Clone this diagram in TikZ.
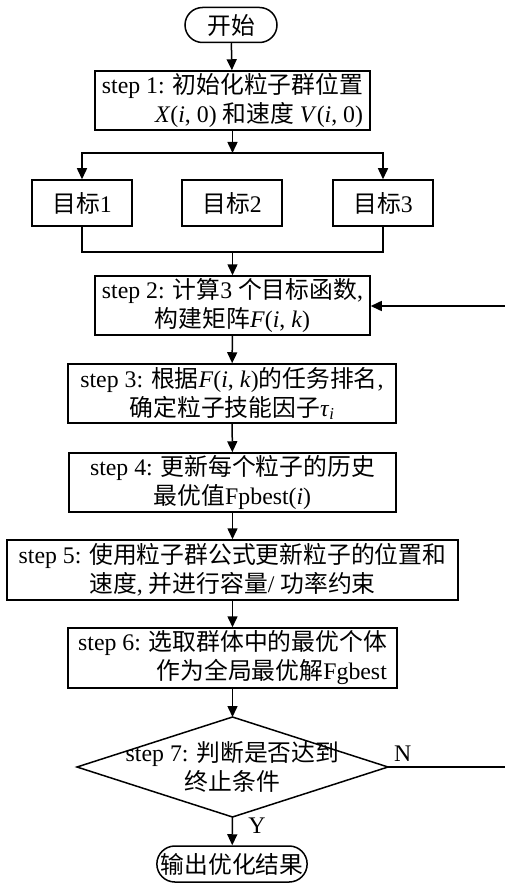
\documentclass[tikz,border=0pt]{standalone}
\usepackage{fontspec}
\setmainfont{Liberation Serif}
\newfontfamily\cjk{Noto Sans CJK SC}
\newcommand\zh[1]{{\cjk #1}}
\newcommand\mi[1]{\textit{#1}}
\usetikzlibrary{arrows.meta,shapes.misc}
\begin{document}
\begin{tikzpicture}[x=1pt,y=-1pt,line width=1.5pt,
  txt/.style={font=\fontsize{23.8}{29}\selectfont},
  box/.style={txt,draw,rectangle,inner sep=0pt,align=center},
  term/.style={txt,draw,rounded rectangle,inner sep=0pt,minimum height=35pt},
  arr/.style={-{Triangle[width=10pt,length=11pt]}}]
\useasboundingbox (0,0) rectangle (505,885);

\node[term,minimum width=92pt] (start) at (231,25) {\zh{开始}};
\node[box,minimum width=275pt,minimum height=59pt,align=right] (s1) at (232.5,100.5)
  {step 1: \zh{初始化粒子群位置}\\ \mi{X}(\mi{i}, 0) \zh{和速度} \mi{V}(\mi{i}, 0)};
\node[box,minimum width=100pt,minimum height=46pt] (t1) at (82,203) {\zh{目标}1};
\node[box,minimum width=100pt,minimum height=46pt] (t2) at (232,203) {\zh{目标}2};
\node[box,minimum width=100pt,minimum height=46pt] (t3) at (383,203) {\zh{目标}3};
\node[box,minimum width=275pt,minimum height=59pt] (s2) at (232.5,305.5)
  {step 2: \zh{计算}3 \zh{个目标函数}, \\ \zh{构建矩阵}\mi{F}(\mi{i}, \mi{k})};
\node[box,minimum width=328pt,minimum height=59pt] (s3) at (232,393.5)
  {step 3: \zh{根据}\mi{F}(\mi{i}, \mi{k})\zh{的任务排名}, \\ \zh{确定粒子技能因子}\mi{τ}\textsubscript{\mi{i}}};
\node[box,minimum width=327pt,minimum height=59pt] (s4) at (232.5,482.5)
  {step 4: \zh{更新每个粒子的历史}\\ \zh{最优值}Fpbest(\mi{i})};
\node[box,minimum width=451pt,minimum height=60pt] (s5) at (232.5,570)
  {step 5: \zh{使用粒子群公式更新粒子的位置和}\\ \zh{速度}, \zh{并进行容量}/ \zh{功率约束}};
\node[box,minimum width=329pt,minimum height=60pt,align=right] (s6) at (232.5,658)
  {step 6: \zh{选取群体中的最优个体}\\ \zh{作为全局最优解}Fgbest};

\coordinate (dT) at (232.5,717);
\coordinate (dR) at (388,767);
\coordinate (dB) at (232.5,817);
\coordinate (dL) at (77,767);
\draw (dT) -- (dR) -- (dB) -- (dL) -- cycle;
\node[txt,align=center] (d) at (232.5,767) {step 7: \zh{判断是否达到}\\ \zh{终止条件}};

\node[term,minimum width=150pt,minimum height=36pt] (end) at (232,864) {\zh{输出优化结果}};

\coordinate (j1) at (232.5,153);
\coordinate (j2) at (232.5,252);
\coordinate (fb1) at (507,767);
\coordinate (fb2) at (507,306);

\draw[arr] (start) -- (s1);
\draw[arr] (s1) -- (j1);
\draw[arr] (j1) -| (t1.north);
\draw[arr] (j1) -| (t3.north);
\draw (t1.south) |- (j2) -| (t3.south);
\draw[arr] (j2) -- (s2.north);
\draw[arr] (s2) -- (s3);
\draw[arr] (s3) -- (s4);
\draw[arr] (s4) -- (s5);
\draw[arr] (s5) -- (s6);
\draw[arr] (s6) -- (dT);
\draw[arr] (dB) -- (end);
\draw[arr] (dR) -- (fb1) -- (fb2) -- (s2.east |- fb2);

\node[txt,anchor=south west] (nlab) at (390,766) {N};
\node[txt] (ylab) at (257,826) {Y};
\end{tikzpicture}
\end{document}
